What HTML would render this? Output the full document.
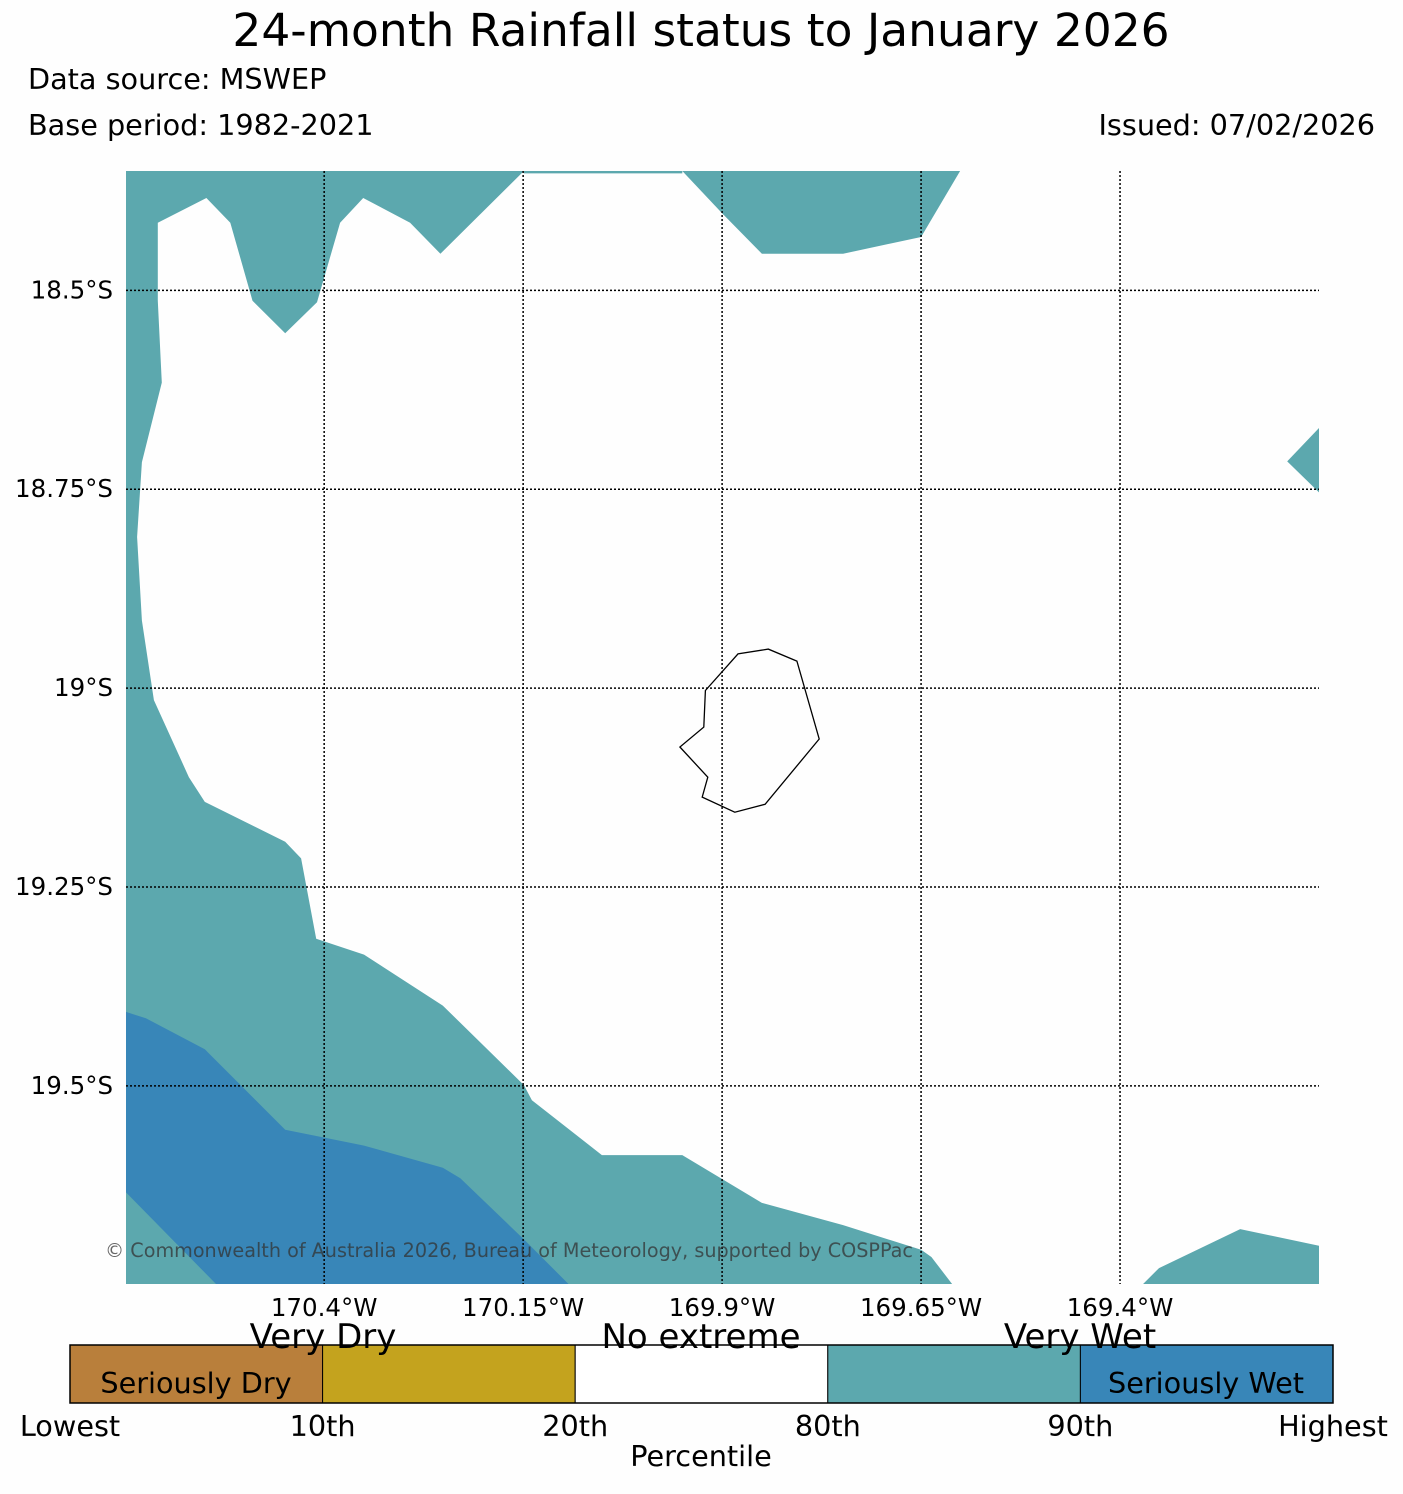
<!DOCTYPE html>
<html><head><meta charset="utf-8">
<style>
html,body{margin:0;padding:0;background:#fefefe;}
svg{display:block;font-family:"DejaVu Sans","Liberation Sans",sans-serif;}
</style></head>
<body>
<svg id="chart" width="1403" height="1494" viewBox="0 0 1403 1494">
<rect x="0" y="0" width="1403" height="1494" fill="#fefefe"/>
<text x="701" y="46" font-size="45.5" text-anchor="middle" fill="#000">24-month Rainfall status to January 2026</text>
<text x="28" y="89" font-size="28.7" fill="#000">Data source: MSWEP</text>
<text x="28" y="135" font-size="28.7" fill="#000">Base period: 1982-2021</text>
<text x="1375" y="135" font-size="28.7" text-anchor="end" fill="#000">Issued: 07/02/2026</text>
<g id="map"></g>
<g id="cbar"></g>
</svg>
<script>
// Axis data
const lonTicks = [-170.4, -170.15, -169.9, -169.65, -169.4];
const lonLabels = ["170.4°W", "170.15°W", "169.9°W", "169.65°W", "169.4°W"];
const latTicks = [-18.5, -18.75, -19, -19.25, -19.5];
const latLabels = ["18.5°S", "18.75°S", "19°S", "19.25°S", "19.5°S"];
const lonRange = [-170.649, -169.150];
const latRange = [-18.350, -19.749];

// Contour polygons (lon, lat)
const tealMainLon = [-170.649,-170.149,-170.254,-170.292,-170.351,-170.380,-170.409,-170.449,-170.490,-170.518,-170.548,-170.609,-170.609,-170.604,-170.629,-170.635,-170.629,-170.614,-170.570,-170.550,-170.449,-170.429,-170.410,-170.350,-170.251,-170.149,-170.139,-170.051,-169.950,-169.850,-169.748,-169.650,-169.637,-169.611,-170.649];
const tealMainLat = [-18.350,-18.350,-18.454,-18.415,-18.384,-18.415,-18.515,-18.554,-18.513,-18.415,-18.384,-18.415,-18.513,-18.616,-18.716,-18.810,-18.915,-19.015,-19.112,-19.143,-19.193,-19.214,-19.315,-19.335,-19.399,-19.499,-19.518,-19.587,-19.587,-19.647,-19.675,-19.706,-19.715,-19.749,-19.749];
const tealStripLon = [-170.149,-169.950,-169.950,-170.149];
const tealStripLat = [-18.350,-18.350,-18.353,-18.353];
const tealTopLon = [-169.950,-169.601,-169.650,-169.748,-169.850,-169.900];
const tealTopLat = [-18.350,-18.350,-18.433,-18.454,-18.454,-18.403];
const tealRightLon = [-169.150,-169.190,-169.150];
const tealRightLat = [-18.673,-18.715,-18.754];
const tealBRLon = [-169.371,-169.351,-169.249,-169.150,-169.150];
const tealBRLat = [-19.749,-19.729,-19.680,-19.701,-19.749];
const blueLon = [-170.649,-170.624,-170.550,-170.449,-170.350,-170.251,-170.229,-170.149,-170.093,-170.536,-170.649];
const blueLat = [-19.407,-19.415,-19.454,-19.555,-19.575,-19.603,-19.616,-19.693,-19.749,-19.749,-19.634];
const tealCornerLon = [-170.649,-170.536,-170.649];
const tealCornerLat = [-19.634,-19.749,-19.749];
const islandLon = [-169.921,-169.880,-169.842,-169.806,-169.778,-169.846,-169.884,-169.925,-169.918,-169.953,-169.923];
const islandLat = [-19.003,-18.957,-18.951,-18.966,-19.064,-19.146,-19.156,-19.137,-19.112,-19.074,-19.049];

// Colorbar data
const cbColors = ["#b97f3b","#c4a31e","#ffffff","#5ca8ae","#3886b8"];
const cbTickLabels = ["Lowest","10th","20th","80th","90th","Highest"];

const X0=126, X1=1319, Y0=171, Y1=1284;
const xs = lon => X0 + (lon-lonRange[0])/(lonRange[1]-lonRange[0])*(X1-X0);
const ys = lat => Y0 + (lat-latRange[0])/(latRange[1]-latRange[0])*(Y1-Y0);
const NS="http://www.w3.org/2000/svg";
const map=document.getElementById('map');
function mk(tag,attrs,parent){const e=document.createElementNS(NS,tag);for(const k in attrs)e.setAttribute(k,attrs[k]);parent.appendChild(e);return e;}
function pts(lo,la){return lo.map((v,i)=>xs(v).toFixed(1)+","+ys(la[i]).toFixed(1)).join(" ");}

let p;
p=mk('polygon',{points:pts(tealMainLon,tealMainLat),fill:'#5ca8ae'},map);


p=mk('polygon',{points:pts(tealStripLon,tealStripLat),fill:'#5ca8ae'},map);


p=mk('polygon',{points:pts(tealTopLon,tealTopLat),fill:'#5ca8ae'},map);


p=mk('polygon',{points:pts(tealRightLon,tealRightLat),fill:'#5ca8ae'},map);


p=mk('polygon',{points:pts(tealBRLon,tealBRLat),fill:'#5ca8ae'},map);


p=mk('polygon',{points:pts(blueLon,blueLat),fill:'#3886b8'},map);


p=mk('polygon',{points:pts(tealCornerLon,tealCornerLat),fill:'#5ca8ae'},map);


p=mk('polygon',{points:pts(islandLon,islandLat),fill:'none',stroke:'#000','stroke-width':1.3},map);



lonTicks.forEach((v,i)=>{
  const x=xs(v);
  const l=mk('line',{x1:x,x2:x,y1:Y0,y2:Y1,stroke:'#000','stroke-width':1.5,'stroke-dasharray':'2,2'},map);
  
  
  const t=mk('text',{x:x,y:1316,'font-size':24.5,'text-anchor':'middle',fill:'#000'},map);
  t.textContent=lonLabels[i];
  
  
});
latTicks.forEach((v,i)=>{
  const y=ys(v);
  const l=mk('line',{x1:X0,x2:X1,y1:y,y2:y,stroke:'#000','stroke-width':1.5,'stroke-dasharray':'2,2'},map);
  
  
  const t=mk('text',{x:113,y:y+8,'font-size':24.5,'text-anchor':'end',fill:'#000'},map);
  t.textContent=latLabels[i];
  
  
});
let c=mk('text',{x:509,y:1257,'font-size':19.2,'text-anchor':'middle',fill:'#333','fill-opacity':0.75},map);
c.textContent="© Commonwealth of Australia 2026, Bureau of Meteorology, supported by COSPPac";



// Colorbar
const cb=document.getElementById('cbar');
const CX0=70, CX1=1333, CY0=1345, CY1=1403;
const segW=(CX1-CX0)/cbColors.length;
cbColors.forEach((col,i)=>{
  const r=mk('rect',{x:CX0+i*segW,y:CY0,width:segW,height:CY1-CY0,fill:col,stroke:'#000','stroke-width':1},cb);
  
  
});
mk('rect',{x:CX0,y:CY0,width:CX1-CX0,height:CY1-CY0,fill:'none',stroke:'#000','stroke-width':1.5},cb);
cbTickLabels.forEach((s,i)=>{
  const t=mk('text',{x:CX0+i*segW,y:1436,'font-size':28.7,'text-anchor':'middle',fill:'#000'},cb);
  t.textContent=s;
  
  
});
const extra=[["Very Dry",323,1348,34,"colorbar-category-very-dry"],["No extreme",701,1348,34,"colorbar-category-no-extreme"],["Very Wet",1080,1348,34,"colorbar-category-very-wet"],["Seriously Dry",196,1393,28.7,"colorbar-category-seriously-dry"],["Seriously Wet",1206,1393,28.7,"colorbar-category-seriously-wet"],["Percentile",701,1466,28.7,"colorbar-axis-title"]];
extra.forEach(e=>{
  const t=mk('text',{x:e[1],y:e[2],'font-size':e[3],'text-anchor':'middle',fill:'#000'},cb);
  t.textContent=e[0];
  
  
});
</script>
</body></html>
